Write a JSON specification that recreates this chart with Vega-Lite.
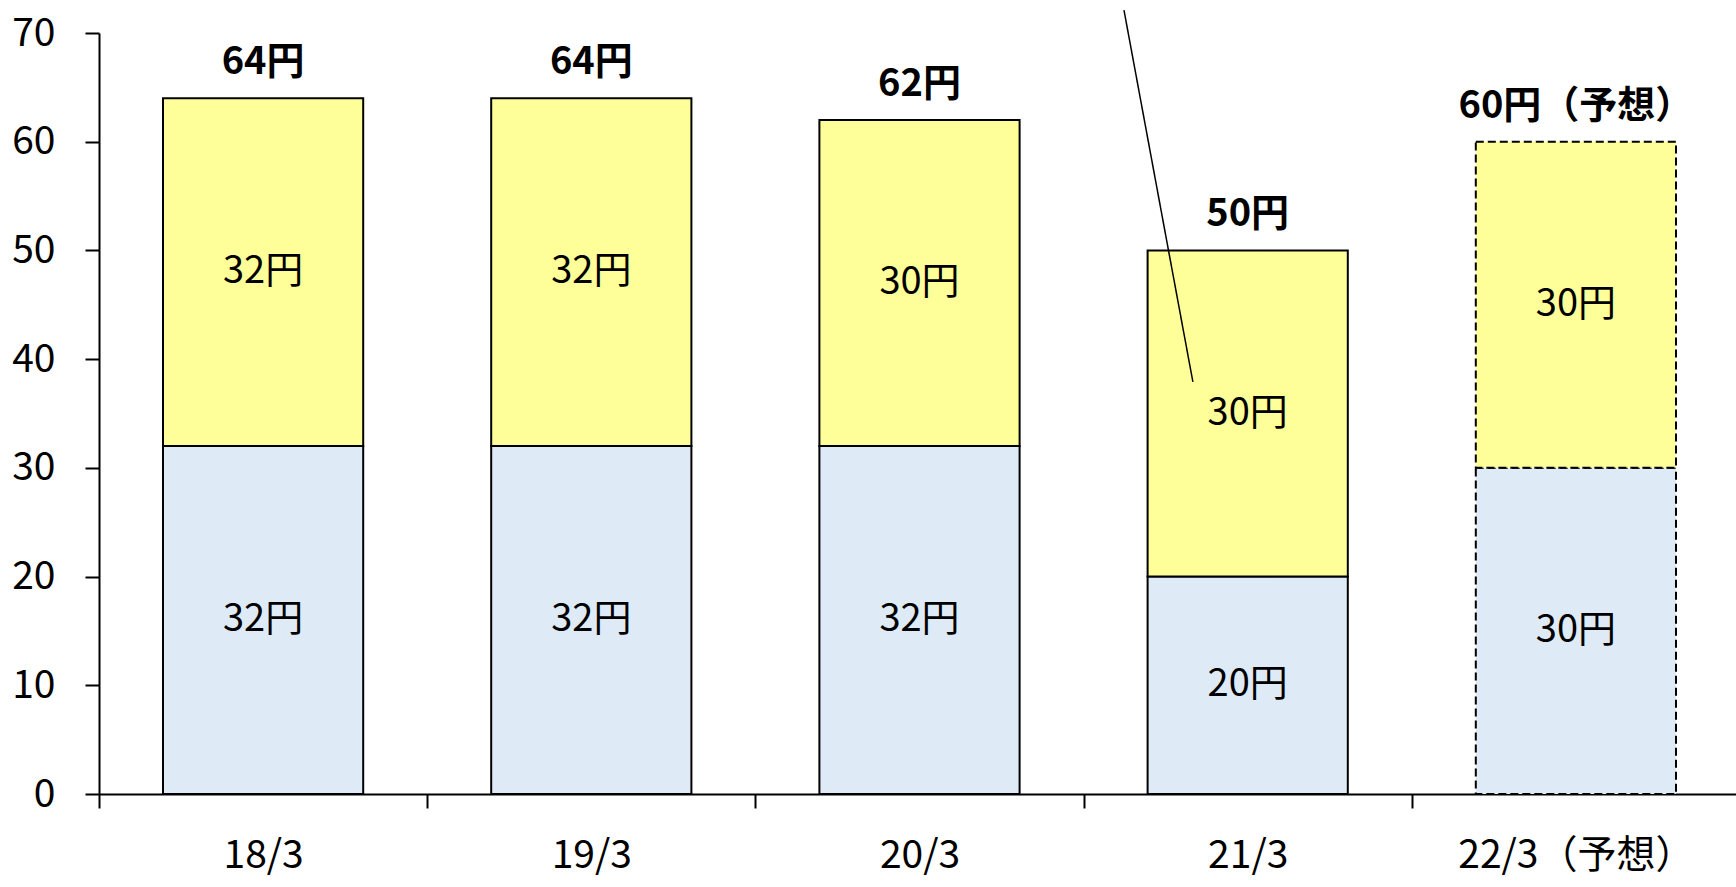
{
  "$schema": "https://vega.github.io/schema/vega-lite/v6.json",
  "width": 1641,
  "height": 761,
  "autosize": {"type": "none"},
  "padding": {"left": 99, "top": 33, "right": 0, "bottom": 93},
  "background": "white",
  "config": {"view": {"stroke": null}, "font": "Noto Sans CJK JP"},
  "datasets": {
    "segments": [
      {"year": "18/3", "part": "下", "seg": 1, "value": 32, "label": "32円", "status": "実績"},
      {"year": "18/3", "part": "上", "seg": 2, "value": 32, "label": "32円", "status": "実績"},
      {"year": "19/3", "part": "下", "seg": 1, "value": 32, "label": "32円", "status": "実績"},
      {"year": "19/3", "part": "上", "seg": 2, "value": 32, "label": "32円", "status": "実績"},
      {"year": "20/3", "part": "下", "seg": 1, "value": 32, "label": "32円", "status": "実績"},
      {"year": "20/3", "part": "上", "seg": 2, "value": 30, "label": "30円", "status": "実績"},
      {"year": "21/3", "part": "下", "seg": 1, "value": 20, "label": "20円", "status": "実績"},
      {"year": "21/3", "part": "上", "seg": 2, "value": 30, "label": "30円", "status": "実績"},
      {"year": "22/3（予想）", "part": "下", "seg": 1, "value": 30, "label": "30円", "status": "予想"},
      {"year": "22/3（予想）", "part": "上", "seg": 2, "value": 30, "label": "30円", "status": "予想"}
    ],
    "totals": [
      {"year": "18/3", "total": 64, "label": "64円"},
      {"year": "19/3", "total": 64, "label": "64円"},
      {"year": "20/3", "total": 62, "label": "62円"},
      {"year": "21/3", "total": 50, "label": "50円"},
      {"year": "22/3（予想）", "total": 60, "label": "60円（予想）"}
    ],
    "leader": [{"x": 3.123, "y": 72.1, "x2": 3.333, "y2": 37.9}]
  },
  "layer": [
    {
      "layer": [
        {
          "data": {"name": "segments"},
          "mark": {"type": "bar", "stroke": "black", "strokeWidth": 2, "width": {"band": 0.61}},
          "encoding": {
            "x": {
              "field": "year", "type": "nominal", "sort": null,
              "scale": {"paddingInner": 0, "paddingOuter": 0},
              "axis": {
                "title": null, "labelAngle": 0, "tickBand": "extent", "labelLimit": 0,
                "labelFontSize": 39, "labelColor": "black", "labelPadding": 28,
                "tickSize": 14, "tickWidth": 2, "tickColor": "black",
                "domainColor": "black", "domainWidth": 2, "grid": false
              }
            },
            "y": {
              "field": "value", "type": "quantitative", "stack": "zero",
              "scale": {"domain": [0, 70], "nice": false},
              "axis": {
                "title": null, "values": [0, 10, 20, 30, 40, 50, 60, 70],
                "labelFontSize": 39, "labelColor": "black", "labelPadding": 30,
                "tickSize": 14, "tickWidth": 2, "tickColor": "black",
                "domainColor": "black", "domainWidth": 2, "grid": false
              }
            },
            "color": {
              "field": "part", "type": "nominal",
              "scale": {"domain": ["下", "上"], "range": ["#DEEAF6", "#FFFF99"]},
              "legend": null
            },
            "order": {"field": "seg", "type": "quantitative"},
            "strokeDash": {
              "field": "status", "type": "nominal",
              "scale": {"domain": ["実績", "予想"], "range": [[1, 0], [8, 4]]},
              "legend": null
            }
          }
        },
        {
          "data": {"name": "segments"},
          "mark": {"type": "text", "fontSize": 38, "color": "black", "baseline": "middle", "align": "center"},
          "encoding": {
            "x": {"field": "year", "type": "nominal", "sort": null},
            "y": {"field": "value", "type": "quantitative", "stack": "zero", "bandPosition": 0.5},
            "order": {"field": "seg", "type": "quantitative"},
            "text": {"field": "label"}
          }
        },
        {
          "data": {"name": "totals"},
          "mark": {"type": "text", "fontSize": 38, "fontWeight": 600, "color": "black", "baseline": "alphabetic", "align": "center", "dy": -24},
          "encoding": {
            "x": {"field": "year", "type": "nominal", "sort": null},
            "y": {"field": "total", "type": "quantitative"},
            "text": {"field": "label"}
          }
        }
      ]
    },
    {
      "data": {"name": "leader"},
      "mark": {"type": "rule", "color": "black", "strokeWidth": 1.5},
      "encoding": {
        "x": {"field": "x", "type": "quantitative", "scale": {"domain": [0, 5], "nice": false, "zero": false}, "axis": null},
        "x2": {"field": "x2"},
        "y": {"field": "y", "type": "quantitative"},
        "y2": {"field": "y2"}
      }
    }
  ],
  "resolve": {"scale": {"x": "independent"}}
}
